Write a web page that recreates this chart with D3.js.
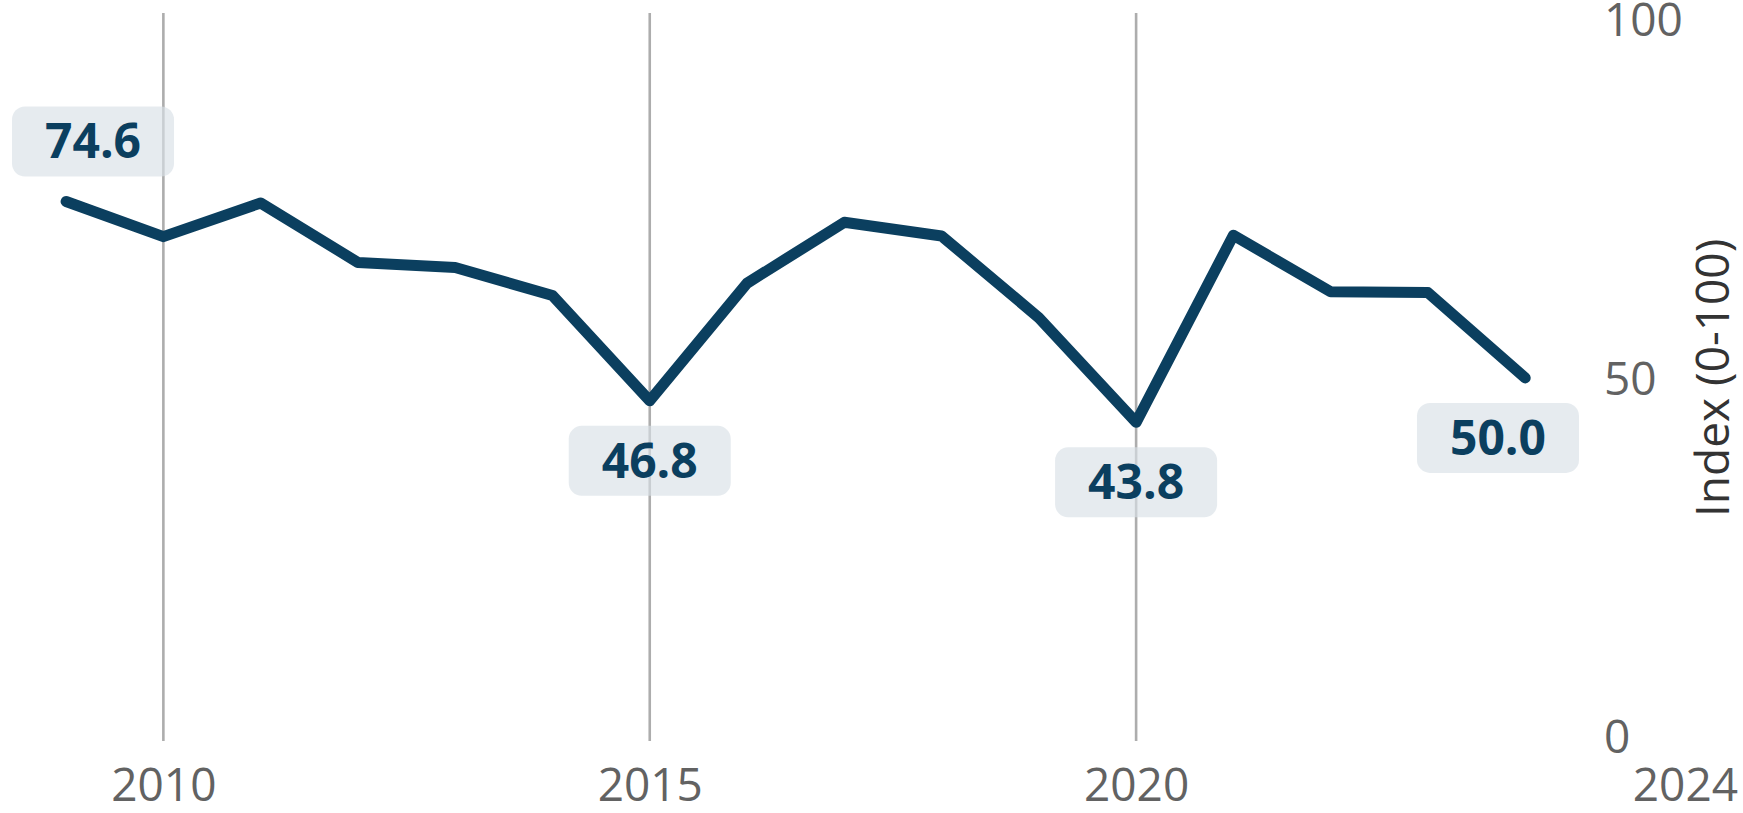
<!DOCTYPE html>
<html>
<head>
<meta charset="utf-8">
<script src="https://cdn.jsdelivr.net/npm/d3@7"></script>
<style>
  html, body { margin: 0; padding: 0; background: #ffffff; }
  svg { display: block; }
</style>
</head>
<body>
<svg id="chart" width="1743" height="813"></svg>
<script>
// ---- data ----
const years = [2009, 2010, 2011, 2012, 2013, 2014, 2015, 2016, 2017, 2018, 2019, 2020, 2021, 2022, 2023, 2024];
const values = [74.6, 69.7, 74.4, 66.1, 65.4, 61.5, 46.8, 63.2, 71.7, 69.8, 58.4, 43.8, 69.9, 62.0, 61.9, 50.0];
const xTickYears = [2010, 2015, 2020];
const xEndLabel = "2024";
const yTicks = [0, 50, 100];
const yTitle = "Index (0-100)";
const labelYears = [2009, 2015, 2020, 2024];
const labelPlacement = ["above", "below", "below", "below"];

// ---- layout ----
const W = 1743, H = 813;
const svg = d3.select("#chart");
const lineColor = "#0b3f5f";

const x = d3.scaleLinear().domain([2009, 2024]).range([66.1, 1525.2]);
const y = d3.scaleLinear().domain([0, 100]).range([736.4, 19.4]);

// vertical grid lines
svg.append("g")
  .selectAll("line")
  .data(xTickYears)
  .join("line")
  .attr("x1", d => x(d)).attr("x2", d => x(d))
  .attr("y1", 13).attr("y2", 741)
  .attr("stroke", "#adadad")
  .attr("stroke-width", 2.6);

// x axis labels
const xAxis = d3.axisBottom(x).tickValues(xTickYears).tickFormat(d3.format("d")).tickSize(0).tickPadding(0);
const gx = svg.append("g").attr("transform", "translate(0,785)").call(xAxis);
gx.select(".domain").remove();
gx.selectAll("text")
  .attr("dy", "0.35em")
  .attr("font-family", "'Open Sans', sans-serif")
  .attr("font-size", 46)
  .attr("fill", "#626262");

svg.append("text")
  .attr("x", 1738).attr("y", 785).attr("dy", "0.35em")
  .attr("text-anchor", "end")
  .attr("font-family", "'Open Sans', sans-serif")
  .attr("font-size", 46)
  .attr("fill", "#626262")
  .text(xEndLabel);

// y axis on right
const yAxis = d3.axisRight(y).tickValues(yTicks).tickSize(0).tickPadding(0);
const gy = svg.append("g").attr("transform", "translate(1604,0)").call(yAxis);
gy.select(".domain").remove();
gy.selectAll("text")
  .attr("x", 0)
  .attr("dy", "0.35em")
  .attr("text-anchor", "start")
  .attr("font-family", "'Open Sans', sans-serif")
  .attr("font-size", 46)
  .attr("fill", "#626262");

// y title
svg.append("text")
  .attr("transform", `translate(1729,${y(50)}) rotate(-90)`)
  .attr("text-anchor", "middle")
  .attr("font-family", "'Open Sans', sans-serif")
  .attr("font-size", 46)
  .attr("fill", "#333333")
  .text(yTitle);

// line
const data = years.map((yr, i) => ({ year: yr, value: values[i] }));
const line = d3.line().x(d => x(d.year)).y(d => y(d.value));
svg.append("path")
  .datum(data)
  .attr("d", line)
  .attr("fill", "none")
  .attr("stroke", lineColor)
  .attr("stroke-width", 11)
  .attr("stroke-linecap", "round")
  .attr("stroke-linejoin", "round");

// annotations
const minX = 12, maxX = 1579;
labelYears.forEach((yr, i) => {
  const v = values[years.indexOf(yr)];
  const px = x(yr), py = y(v);
  const cy = labelPlacement[i] === "above" ? py - 60 : py + 60;
  const g = svg.append("g");
  const rect = g.append("rect");
  const t = g.append("text")
    .attr("font-family", "'Open Sans', sans-serif")
    .attr("font-weight", 700)
    .attr("font-size", 48)
    .attr("fill", lineColor)
    .attr("text-anchor", "middle")
    .attr("dy", "0.35em")
    .text(d3.format(".1f")(v));
  const bw = t.node().getBBox().width + 66;
  const bh = 70;
  let cx = px;
  if (cx - bw / 2 < minX) cx = minX + bw / 2;
  if (cx + bw / 2 > maxX) cx = maxX - bw / 2;
  rect.attr("x", cx - bw / 2).attr("y", cy - bh / 2)
    .attr("width", bw).attr("height", bh)
    .attr("rx", 13).attr("ry", 13)
    .attr("fill", "#d8e0e7").attr("fill-opacity", 0.65);
  t.attr("x", cx).attr("y", cy);
});
</script>
</body>
</html>
